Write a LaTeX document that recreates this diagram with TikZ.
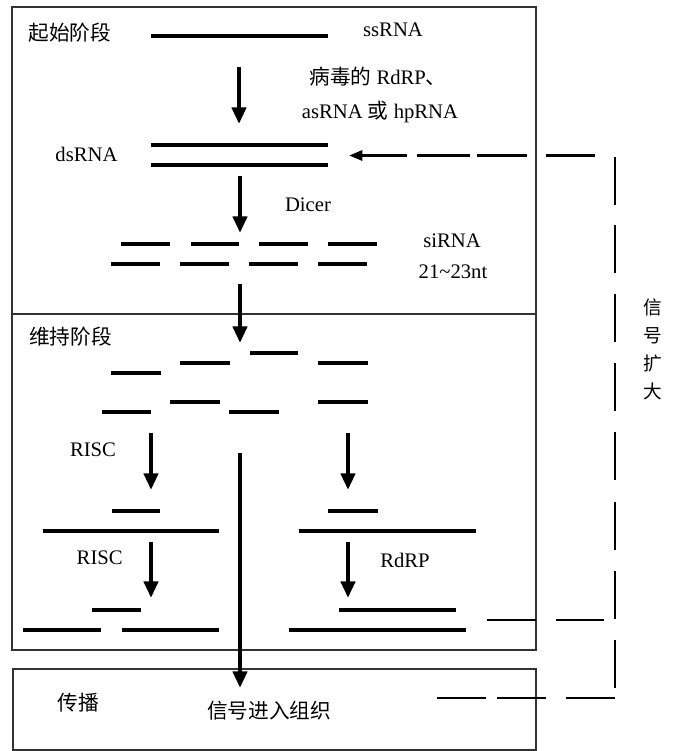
\documentclass[tikz,border=0pt]{standalone}
\usepackage{fontspec}
\setmainfont{Liberation Serif}
\newfontfamily\cjk{Noto Sans CJK SC}
\usetikzlibrary{arrows.meta}
\begin{document}
\begin{tikzpicture}[x=0.75pt,y=-0.75pt,
  strand/.style={line width=3pt},
  frame/.style={line width=1pt, draw=black!80},
  flow/.style={line width=3.4pt,-{Triangle[length=12.5pt,width=10.5pt]}},
  sig/.style={line width=2.2pt},
  lat/.style={font=\fontsize{15.5}{18}\selectfont, inner sep=0pt},
  han/.style={font=\fontsize{15.5}{18}\cjk, inner sep=0pt}
]
\useasboundingbox (0,0) rectangle (673,751);
% frames
\draw[frame] (12,7) rectangle (536,314);
\draw[frame] (12,314) rectangle (536,650);
\draw[frame] (13,669) rectangle (536,750);

% ---- stage 1
\node[han] (lab1) at (70,33) {起始阶段};
\draw[strand] (151,36) -- (328,36);
\node[lat] (ss) at (393,30) {ssRNA};
\node[lat] (enz1) at (378,77) {{\cjk 病毒的} RdRP{\cjk 、}};
\node[lat] (enz2) at (380,112) {asRNA {\cjk 或} hpRNA};
\node[lat] (ds) at (86.5,154) {dsRNA};
\draw[strand] (151,145) -- (328,145);
\draw[strand] (151,165) -- (328,165);
\node[lat] (dicer) at (308,205) {Dicer};
\foreach \a/\b in {121/170,191/239,259/308,328/377}
  \draw[strand] (\a,244.3) -- (\b,244.3);
\foreach \a/\b in {111/160,180/229,249/298,318/367}
  \draw[strand] (\a,264.3) -- (\b,264.3);
\node[lat] (si) at (452,241) {siRNA};
\node[lat] (nt) at (453,272) {21\textasciitilde23nt};

\coordinate (a1s) at (239,67);  \coordinate (a1e) at (239,124);
\coordinate (a2s) at (240,176); \coordinate (a2e) at (240,233);
\coordinate (a3s) at (240,284); \coordinate (a3e) at (240,343);
\draw[flow] (a1s) -- (a1e);
\draw[flow] (a2s) -- (a2e);
\draw[flow] (a3s) -- (a3e);

% ---- stage 2
\node[han] (lab2) at (70.5,337) {维持阶段};
\draw[strand] (250,352.7) -- (298,352.7);
\draw[strand] (180,362.7) -- (230,362.7);
\draw[strand] (318,362.7) -- (368,362.7);
\draw[strand] (111,372.7) -- (161,372.7);
\draw[strand] (170,402.3) -- (220,402.3);
\draw[strand] (318,402.3) -- (368,402.3);
\draw[strand] (102,412.3) -- (151,412.3);
\draw[strand] (229,412.3) -- (279,412.3);

\node[lat] (risc1) at (93,450) {RISC};
\coordinate (a4s) at (151,433); \coordinate (a4e) at (151,490);
\coordinate (a5s) at (240,453); \coordinate (a5e) at (240,688);
\coordinate (a6s) at (348,433); \coordinate (a6e) at (348,490);
\draw[flow] (a4s) -- (a4e);
\draw[flow] (a5s) -- (a5e);
\draw[flow] (a6s) -- (a6e);

\draw[strand] (112,511.3) -- (160,511.3);
\draw[strand] (43,531) -- (219,531);
\draw[strand] (328,511.3) -- (378,511.3);
\draw[strand] (299,531) -- (476,531);

\node[lat] (risc2) at (99.7,558) {RISC};
\node[lat] (rdrp) at (405,560) {RdRP};
\coordinate (a7s) at (151,542); \coordinate (a7e) at (151,598);
\coordinate (a8s) at (348,542); \coordinate (a8e) at (348,598);
\draw[flow] (a7s) -- (a7e);
\draw[flow] (a8s) -- (a8e);

\draw[strand] (92,610) -- (141,610);
\draw[strand] (23,630) -- (101,630);
\draw[strand] (122,630) -- (219,630);
\draw[strand] (339,610) -- (456,610);
\draw[strand] (289,630) -- (466,630);

% ---- stage 3
\node[han] (lab3) at (78,703) {传播};
\node[han] (enter) at (269,711) {信号进入组织};

% ---- signal amplification loop
\coordinate (sa) at (407,155.5); \coordinate (sb) at (349,155.5);
\draw[sig,-{Triangle[length=10pt,width=7.5pt]}] (sa) -- (sb);
\foreach \a/\b in {417/470,477/527,546/595}
  \draw[sig] (\a,155.5) -- (\b,155.5);
\foreach \s in {157,225,294,363,432,502,571,640}
  \draw[sig] (615,\s) -- (615,\s+48);
\draw[sig] (487,620) -- (536,620);
\draw[sig] (556,620) -- (604,620);
\foreach \a/\b in {437/486,497/546,566/615}
  \draw[sig] (\a,698) -- (\b,698);
\node[font=\fontsize{14}{21}\cjk, align=center, inner sep=0pt] (amp) at (653,349) {信\\号\\扩\\大};
\end{tikzpicture}
\end{document}
